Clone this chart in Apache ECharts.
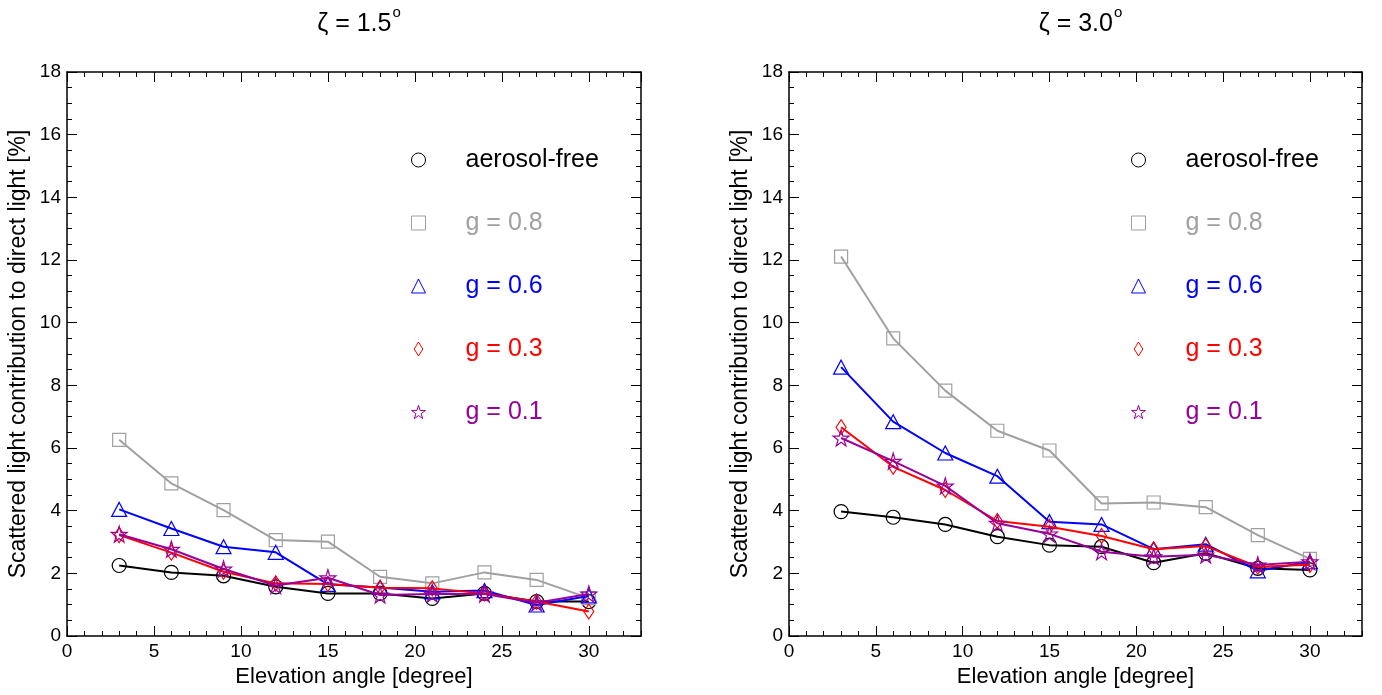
<!DOCTYPE html>
<html>
<head>
<meta charset="utf-8">
<script src="https://cdn.jsdelivr.net/npm/echarts@6/dist/echarts.min.js"></script>
<style>
html,body{margin:0;padding:0;background:#fff;}
#chart{width:1382px;height:695px;}
</style>
</head>
<body>
<div id="chart"></div>
<script>
// ---- data ----
var elevation = [3, 6, 9, 12, 15, 18, 21, 24, 27, 30];
var seriesNames = ['aerosol-free', 'g = 0.8', 'g = 0.6', 'g = 0.3', 'g = 0.1'];
var panelTitles = ['ζ = 1.5', 'ζ = 3.0'];

// zeta = 1.5 deg
var free15 = [2.25, 2.03, 1.92, 1.57, 1.36, 1.36, 1.20, 1.36, 1.10, 1.10];
var g08_15 = [6.26, 4.87, 4.02, 3.06, 3.01, 1.89, 1.68, 2.03, 1.79, 1.21];
var g06_15 = [4.04, 3.43, 2.85, 2.67, 1.65, 1.55, 1.41, 1.45, 0.99, 1.28];
var g03_15 = [3.22, 2.66, 2.05, 1.68, 1.66, 1.54, 1.52, 1.36, 1.10, 0.78];
var g01_15 = [3.25, 2.77, 2.14, 1.61, 1.86, 1.31, 1.34, 1.34, 1.06, 1.34];

// zeta = 3.0 deg
var free30 = [3.97, 3.79, 3.56, 3.17, 2.90, 2.85, 2.34, 2.64, 2.16, 2.11];
var g08_30 = [12.11, 9.50, 7.83, 6.55, 5.92, 4.23, 4.26, 4.11, 3.22, 2.46];
var g06_30 = [8.58, 6.84, 5.84, 5.10, 3.65, 3.56, 2.77, 2.93, 2.08, 2.37];
var g03_30 = [6.66, 5.40, 4.66, 3.67, 3.49, 3.19, 2.77, 2.87, 2.21, 2.27];
var g01_30 = [6.32, 5.58, 4.79, 3.60, 3.26, 2.69, 2.53, 2.59, 2.27, 2.37];

var panelData = [
  [free15, g08_15, g06_15, g03_15, g01_15],
  [free30, g08_30, g06_30, g03_30, g01_30]
];

// ---- styles ----
var colors = ['#000000', '#a0a0a0', '#0000ff', '#ff0000', '#990099'];
var starPath = 'path://M50,0 L61,35 L98,35 L68,57 L79,91 L50,70 L21,91 L32,57 L2,35 L39,35 Z';
var diamondPath = 'path://M4,0 L8,6.5 L4,13 L0,6.5 Z';
var symbols = ['circle', 'rect', 'triangle', diamondPath, starPath];
var symbolSizes = [14, 13, [15, 14], [10, 15], 16];
var legendIcons = ['circle', 'rect', 'triangle', diamondPath, starPath];

var FONT = '"Liberation Sans", Arial, Helvetica, sans-serif';
var grids = [
  {left: 67, top: 72, width: 574, height: 564},
  {left: 789, top: 72, width: 573, height: 564}
];
var legendPos = [{left: 406, top: 141}, {left: 1126, top: 141}];

var xAxes = [], yAxes = [], series = [], titles = [], legends = [];
var lineCol = '#000';

grids.forEach(function (g, gi) {
  var cx = g.left + g.width / 2;
  // x axes: major (bottom), minor (bottom), major (top), minor (top)
  [['bottom', 5, 10, true], ['bottom', 1, 5, false], ['top', 5, 10, false], ['top', 1, 5, false]].forEach(function (a, k) {
    var ax = {
      type: 'value', gridIndex: gi, position: a[0], min: 0, max: 33, interval: a[1],
      axisLine: {show: k === 0 || k === 2, onZero: false, lineStyle: {color: lineCol, width: 1.5}},
      axisTick: {show: true, inside: true, length: a[2], lineStyle: {color: lineCol, width: 1}},
      axisLabel: {show: a[3], showMaxLabel: false, color: '#000', fontSize: 19, fontFamily: FONT, margin: 6},
      splitLine: {show: false}
    };
    if (k === 0) {
      ax.name = 'Elevation angle [degree]';
      ax.nameLocation = 'middle';
      ax.nameGap = 30;
      ax.nameTextStyle = {color: '#000', fontSize: 22, fontFamily: FONT};
    }
    xAxes.push(ax);
  });
  ['left', 'right'].forEach(function (pos, k) {
    var ay = {
      type: 'value', gridIndex: gi, position: pos, min: 0, max: 18, interval: 2,
      axisLine: {show: true, onZero: false, lineStyle: {color: lineCol, width: 1.5}},
      axisTick: {show: true, inside: true, length: 10, lineStyle: {color: lineCol, width: 1}},
      minorTick: {show: true, splitNumber: 4, length: 5, lineStyle: {color: lineCol, width: 1}},
      axisLabel: {show: k === 0, color: '#000', fontSize: 19, fontFamily: FONT, margin: 6},
      splitLine: {show: false}, minorSplitLine: {show: false}
    };
    if (k === 0) {
      ay.name = 'Scattered light contribution to direct light [%]';
      ay.nameLocation = 'middle';
      ay.nameGap = 37;
      ay.nameTextStyle = {color: '#000', fontSize: 23, fontFamily: FONT};
    }
    yAxes.push(ay);
  });

  seriesNames.forEach(function (nm, si) {
    var vals = panelData[gi][si];
    series.push({
      name: nm, type: 'line',
      xAxisIndex: gi * 4, yAxisIndex: gi * 2,
      data: elevation.map(function (x, i) { return [x, vals[i]]; }),
      symbol: symbols[si], symbolSize: symbolSizes[si],
      showSymbol: true, animation: false,
      lineStyle: {color: colors[si], width: 2},
      itemStyle: {color: 'rgba(0,0,0,0)', borderColor: colors[si], borderWidth: 1.2},
      emphasis: {disabled: true},
      z: 2 + si
    });
  });

  titles.push({
    text: '{a|' + panelTitles[gi] + '}{s|o}',
    left: cx, top: 0, textAlign: 'center',
    textStyle: {
      fontWeight: 'normal',
      rich: {
        a: {fontSize: 25, fontFamily: FONT, fontWeight: 'normal', color: '#000', lineHeight: 32, verticalAlign: 'bottom'},
        s: {fontSize: 15, fontFamily: FONT, fontWeight: 'normal', color: '#000', lineHeight: 32, verticalAlign: 'top', padding: [0, 0, 12, 1]}
      }
    }
  });

  legends.push({
    orient: 'vertical', left: legendPos[gi].left, top: legendPos[gi].top,
    itemWidth: 14, itemHeight: 14, itemGap: 35,
    selectedMode: false,
    textStyle: {fontSize: 25, fontFamily: FONT, lineHeight: 28, padding: [0, 0, 0, 35]},
    data: seriesNames.map(function (nm, si) {
      return {
        name: nm, icon: legendIcons[si],
        itemStyle: {color: 'rgba(0,0,0,0)', borderColor: colors[si], borderWidth: 1},
        textStyle: {color: colors[si]}
      };
    })
  });
});

var chart = echarts.init(document.getElementById('chart'), null, {renderer: 'canvas'});
chart.setOption({
  animation: false,
  backgroundColor: '#fff',
  title: titles,
  legend: legends,
  grid: grids,
  xAxis: xAxes,
  yAxis: yAxes,
  series: series
});
</script>
</body>
</html>
